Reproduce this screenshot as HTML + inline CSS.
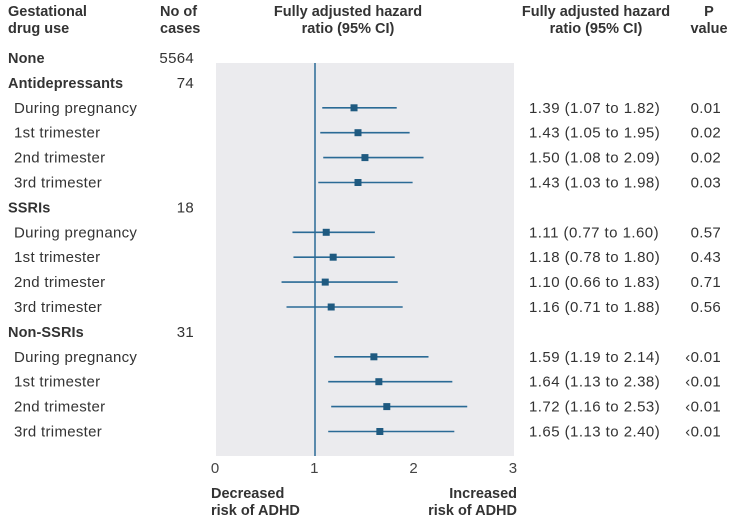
<!DOCTYPE html>
<html><head><meta charset="utf-8"><style>
body{margin:0;background:#fff;}
svg{display:block;font-family:"Liberation Sans",sans-serif;}
</style></head><body>
<svg id="c" width="733" height="519">
<rect x="216" y="63" width="298" height="393" fill="#ebebee"/>
<g fill="#333" font-weight="bold" font-size="14.5" letter-spacing="0">
<text x="8" y="16">Gestational</text>
<text x="8" y="33">drug use</text>
<text x="160" y="16">No of</text>
<text x="160" y="33">cases</text>
<text x="348" y="16" text-anchor="middle">Fully adjusted hazard</text>
<text x="348" y="33" text-anchor="middle">ratio (95% CI)</text>
<text x="596" y="16" text-anchor="middle">Fully adjusted hazard</text>
<text x="596" y="33" text-anchor="middle">ratio (95% CI)</text>
<text x="709" y="16" text-anchor="middle">P</text>
<text x="709" y="33" text-anchor="middle">value</text>
</g>
<g id="rows"></g>
<line x1="315" y1="63" x2="315" y2="456" stroke="#2a6a95" stroke-width="1.5"/>
<g id="marks"></g>
<g id="ticks" fill="#444" font-size="15"></g>
<g fill="#333" font-weight="bold" font-size="14.5" letter-spacing="0">
<text x="211" y="498">Decreased</text>
<text x="211" y="515">risk of ADHD</text>
<text x="517" y="498" text-anchor="end">Increased</text>
<text x="517" y="515" text-anchor="end">risk of ADHD</text>
</g>
</svg>
<script>
const labels=["None","Antidepressants","During pregnancy","1st trimester","2nd trimester","3rd trimester","SSRIs","During pregnancy","1st trimester","2nd trimester","3rd trimester","Non-SSRIs","During pregnancy","1st trimester","2nd trimester","3rd trimester"];
const isHeader=[1,1,0,0,0,0,1,0,0,0,0,1,0,0,0,0];
const cases=["5564","74","","","","","18","","","","","31","","","",""];
const hr=[null,null,1.39,1.43,1.50,1.43,null,1.11,1.18,1.10,1.16,null,1.59,1.64,1.72,1.65];
const lo=[null,null,1.07,1.05,1.08,1.03,null,0.77,0.78,0.66,0.71,null,1.19,1.13,1.16,1.13];
const hi=[null,null,1.82,1.95,2.09,1.98,null,1.60,1.80,1.83,1.88,null,2.14,2.38,2.53,2.40];
const pvals=["","","0.01","0.02","0.02","0.03","","0.57","0.43","0.71","0.56","","\u20390.01","\u20390.01","\u20390.01","\u20390.01"];
const ticks=[0,1,2,3];
const NS="http://www.w3.org/2000/svg";
const xs=v=>216+v*99.3;
const ys=i=>63+i*24.9;
function t(parent,x,y,s,anchor,bold,ls){const e=document.createElementNS(NS,"text");e.setAttribute("x",x);e.setAttribute("y",y);if(anchor)e.setAttribute("text-anchor",anchor);if(bold)e.setAttribute("font-weight","bold");e.setAttribute("font-size",bold?"14.5":"15");e.setAttribute("letter-spacing",ls||"0.3");e.setAttribute("fill","#333");e.textContent=s;parent.appendChild(e);return e;}
const rows=document.getElementById("rows"),marks=document.getElementById("marks");
labels.forEach((l,i)=>{
 const y=ys(i);
 let e=t(rows,isHeader[i]?8:14,y,l,null,isHeader[i],isHeader[i]?"0.1":"0.3");
 
 
 if(cases[i]){e=t(rows,194,y,cases[i],"end");
 
 }
 if(hr[i]!=null){
  e=t(rows,529,y,hr[i].toFixed(2)+" ("+lo[i].toFixed(2)+" to "+hi[i].toFixed(2)+")",null,false,"0.45");
  
  
  e=t(rows,721,y,pvals[i],"end");
  
  
  const cy=y-5;
  const ln=document.createElementNS(NS,"line");
  ln.setAttribute("x1",xs(lo[i]));ln.setAttribute("x2",xs(hi[i]));ln.setAttribute("y1",cy);ln.setAttribute("y2",cy);
  ln.setAttribute("stroke","#2a6a95");ln.setAttribute("stroke-width","1.6");
  
  
  marks.appendChild(ln);
  const r=document.createElementNS(NS,"rect");
  r.setAttribute("x",xs(hr[i])-3.5);r.setAttribute("y",cy-3.5);r.setAttribute("width",7);r.setAttribute("height",7);r.setAttribute("fill","#1f5a80");
  
  
  marks.appendChild(r);
 }
});
const tg=document.getElementById("ticks");
ticks.forEach(v=>{const e=document.createElementNS(NS,"text");e.setAttribute("x",xs(v)-1);e.setAttribute("y",473);e.setAttribute("text-anchor","middle");e.textContent=v;


tg.appendChild(e);});
</script>
</body></html>
